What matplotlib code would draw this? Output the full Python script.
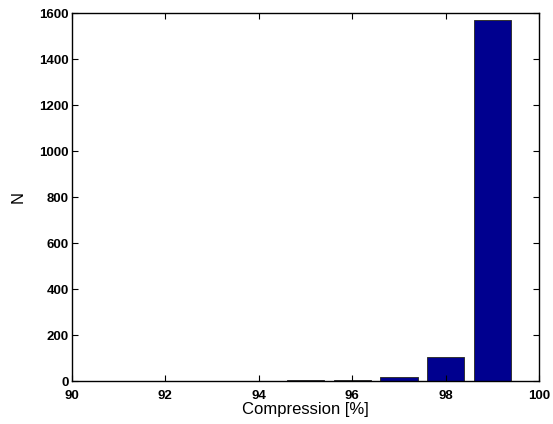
import numpy as np
import matplotlib
matplotlib.use('Agg')
import matplotlib.pyplot as plt

### DATA ###
centers = [91, 92, 93, 94, 95, 96, 97, 98, 99]
counts = [2, 1, 1, 2, 6, 5, 19, 104, 1572]

plt.rcParams['font.family'] = ['Liberation Sans', 'DejaVu Sans']

fig = plt.figure(figsize=(5.53, 4.24), dpi=100, facecolor='w')
ax = fig.add_axes([0.130, 0.101, 0.845, 0.868])

ax.bar(centers, counts, width=0.8, color='#00008f', edgecolor='#333333', linewidth=0.7)

ax.set_xlim(90, 100)
ax.set_ylim(0, 1600)
ax.set_xticks(np.arange(90, 101, 2))
ax.set_yticks(np.arange(0, 1601, 200))
ax.tick_params(direction='in', top=True, right=True, length=4, width=0.8,
               labelsize=9.5)
ax.tick_params(axis='x', pad=6)
ax.tick_params(axis='y', pad=2)
for lab in ax.get_xticklabels() + ax.get_yticklabels():
    lab.set_fontweight('bold')
for s in ax.spines.values():
    s.set_linewidth(1.0)

ax.set_xlabel('Compression [%]', fontsize=12, labelpad=0)
ax.set_ylabel('N', fontsize=12, labelpad=10)

plt.savefig('out.png', dpi=100)
